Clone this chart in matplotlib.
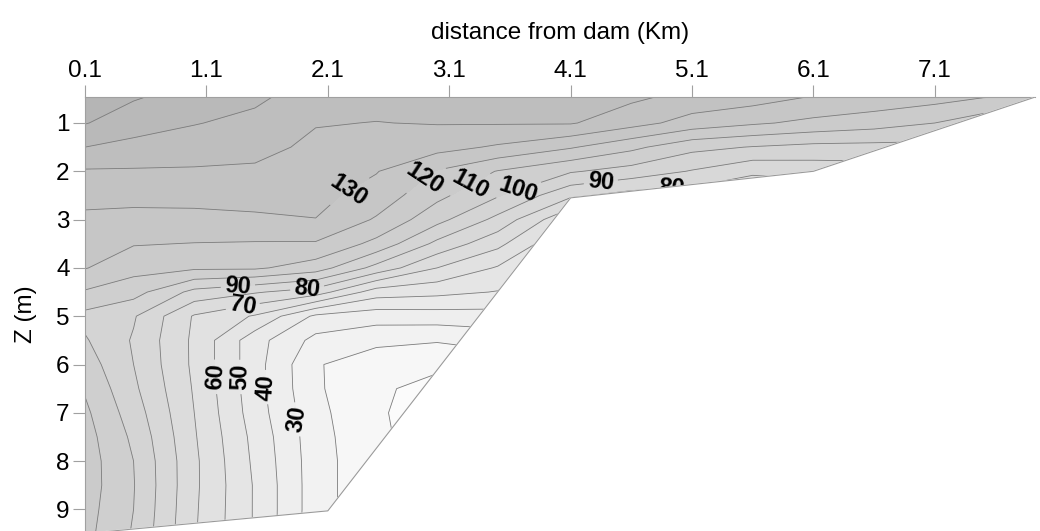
import matplotlib
matplotlib.use('Agg')
import matplotlib.pyplot as plt
import numpy as np
from matplotlib.colors import LinearSegmentedColormap

plt.rcParams['font.family'] = ['Liberation Sans', 'DejaVu Sans']

# stations along the reservoir and sampled depths
distance_km = [0.1, 0.5, 1.0, 1.5, 2.0, 2.5, 3.0, 3.5, 4.1, 4.6, 5.1, 5.6, 6.1, 6.6, 7.1, 7.5, 7.93]
depth_m = [0.46, 1.0, 1.5, 2.0, 2.5, 3.0, 3.5, 4.0, 4.5, 5.0, 5.5, 6.0, 6.5, 7.0, 7.5, 8.0, 8.5, 9.0, 9.5]

# vertical profiles (surface -> bottom)
profile_0_1 = [166, 160.5, 150, 139, 133, 128, 124, 120.5, 109, 97, 101, 105, 109, 112, 114, 115, 115, 114, 113]
profile_0_5 = [161, 154.7, 147, 139, 133, 127, 120.6, 113.6, 103.8, 91, 89, 90, 92, 95, 98, 100, 100.5, 100, 99]
profile_1_0 = [156, 150.5, 144.9, 138.9, 133.3, 127.1, 119.7, 111.6, 87, 69, 68, 68, 69, 70, 71, 72, 72, 71.5, 71]
profile_1_5 = [152, 147.3, 142.9, 138.5, 133.7, 128.3, 119.2, 111.5, 81, 59, 44, 44, 44, 45, 47, 48, 49, 49, 49]
profile_2_0 = [145, 140.5, 138, 135.5, 132.8, 129.8, 119, 105, 75, 38, 27, 21, 21.5, 23, 24, 24.5, 24.5, 24.5, 24]
profile_2_5 = [143, 139.8, 135.5, 130.5, 126, 118.9, 107.1, 86.7, 55, 34.3, 22.7, 13.6, 11.5, 11, 11.5, 12, 12, 12, 12]
profile_3_0 = [142, 140.5, 133.5, 119.3, 112.6, 103.3, 87.4, 70, 52.8, 35.2, 20.8, 11.8, 7, 6, 6, 6, 6, 6, 6]
profile_3_5 = [142, 140.7, 128.7, 109.5, 100.9, 87.1, 72.9, 59, 49.5, 36, 24, 14, 8, 6, 6, 6, 6, 6, 6]
profile_4_1 = [143, 140.8, 121, 101, 82, 60, 48, 38, 30, 22, 15, 10, 7, 6, 6, 6, 6, 6, 6]
profile_4_6 = [142, 133.8, 112.5, 96, 76, 60, 48, 38, 30, 22, 15, 10, 7, 6, 6, 6, 6, 6, 6]
profile_5_1 = [137, 126, 102.9, 89.3, 75, 58, 48, 38, 30, 22, 15, 10, 7, 6, 6, 6, 6, 6, 6]
profile_5_6 = [134.5, 121.4, 99.5, 82, 70, 58, 48, 38, 30, 22, 15, 10, 7, 6, 6, 6, 6, 6, 6]
profile_6_1 = [129.5, 117.6, 97.1, 84, 72, 60, 48, 38, 30, 22, 15, 10, 7, 6, 6, 6, 6, 6, 6]
profile_6_6 = [127, 114.4, 96.8, 85, 72, 60, 48, 38, 30, 22, 15, 10, 7, 6, 6, 6, 6, 6, 6]
profile_7_1 = [124, 110, 97, 85, 72, 60, 48, 38, 30, 22, 15, 10, 7, 6, 6, 6, 6, 6, 6]
profile_7_5 = [120.5, 104, 95, 85, 72, 60, 48, 38, 30, 22, 15, 10, 7, 6, 6, 6, 6, 6, 6]
profile_7_9 = [119, 103, 94, 85, 72, 60, 48, 38, 30, 22, 15, 10, 7, 6, 6, 6, 6, 6, 6]

# reservoir bottom
bottom_km = [0.1, 2.1, 4.1, 6.1, 7.93]
bottom_m = [9.5, 9.03, 2.55, 2.0, 0.46]

# where the contour labels sit
label_km = [2.31, 2.9, 3.27, 3.67, 4.35, 4.93, 1.36, 1.93, 1.4, 1.15, 1.35, 1.56, 1.81]
label_m = [2.55, 2.14, 2.26, 2.37, 2.24, 2.32, 4.4, 4.42, 4.8, 6.26, 6.26, 6.47, 7.15]

tick_km = [0.1, 1.1, 2.1, 3.1, 4.1, 5.1, 6.1, 7.1]
tick_m = [1, 2, 3, 4, 5, 6, 7, 8, 9]

levels = np.arange(0, 171, 10)

values = np.column_stack([profile_0_1, profile_0_5, profile_1_0, profile_1_5, profile_2_0, profile_2_5,
                          profile_3_0, profile_3_5, profile_4_1, profile_4_6, profile_5_1, profile_5_6,
                          profile_6_1, profile_6_6, profile_7_1, profile_7_5, profile_7_9])
X, Z = np.meshgrid(distance_km, depth_m)

fig = plt.figure(figsize=(10.4, 5.31), dpi=100)
ax = fig.add_axes([85 / 1040, 0, 950 / 1040, 434 / 531])

gray = LinearSegmentedColormap.from_list('section_gray', ['#fdfdfd', '#b3b3b3'])
ax.contourf(X, Z, values, levels=levels, cmap=gray, vmin=0, vmax=170, zorder=1)
cs = ax.contour(X, Z, values, levels=levels[1:-1], colors='#7c7c7c', linewidths=0.6, zorder=2)
texts = ax.clabel(cs, fmt='%d', manual=list(zip(label_km, label_m)), inline=True,
                  inline_spacing=4, fontsize=17, colors='black')
for t in texts:
    t.set_fontweight('bold')
    t.set_zorder(3)

# blank out everything below the bottom
ax.fill([0.05] + bottom_km + [8.0, 8.0, 0.05], [9.5] + bottom_m + [0.4, 10.0, 10.0],
        color='white', zorder=4)
ax.plot(bottom_km, bottom_m, color='#9a9a9a', lw=0.8, zorder=5)

ax.set_xlim(0.1, 7.925)
ax.set_ylim(9.447, 0.462)

ax.xaxis.tick_top()
ax.xaxis.set_label_position('top')
ax.set_xticks(tick_km, labels=[f'{t:.1f}' for t in tick_km])
ax.set_yticks(tick_m, labels=[str(t) for t in tick_m])
ax.tick_params(axis='both', direction='out', length=9, width=0.8, color='#a0a0a0', labelsize=17.5)
ax.tick_params(axis='x', pad=2)
ax.tick_params(axis='y', pad=2)

for side in ['right', 'bottom']:
    ax.spines[side].set_visible(False)
for side in ['top', 'left']:
    ax.spines[side].set_color('#a0a0a0')
    ax.spines[side].set_linewidth(0.8)

ax.set_xlabel('distance from dam (Km)', fontsize=17.5, labelpad=15)
ax.set_ylabel('Z (m)', fontsize=17.5, labelpad=14)

fig.savefig('out.png', dpi=100)
